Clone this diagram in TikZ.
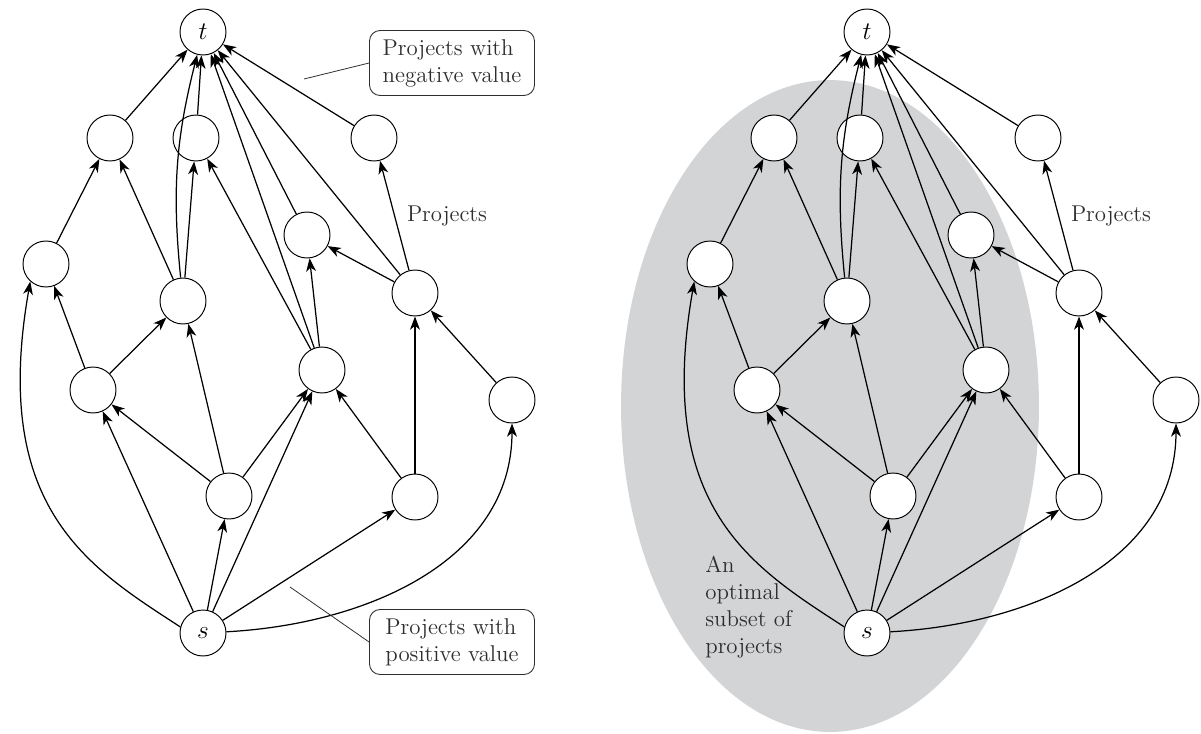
\documentclass[tikz,border=0pt]{standalone}
\usepackage{xcolor}
\usepackage{tikz}
\usetikzlibrary{arrows.meta}
\definecolor{ink}{HTML}{2E2E2E}
\definecolor{setgray}{HTML}{D3D4D6}

\begin{document}
\begin{tikzpicture}[x=0.02cm,y=-0.02cm,
  proj/.style={circle,draw=black,line width=0.55pt,fill=white,minimum size=0.92cm,inner sep=0pt,font=\fontsize{14}{16}\selectfont},
  dep/.style={-{Stealth[length=7.5pt,width=5.6pt,inset=2.2pt]},line width=0.7pt},
  note/.style={rectangle,rounded corners=6pt,draw=ink,line width=0.5pt,align=left,text=ink,font=\fontsize{13}{15.4}\selectfont,minimum width=3.3cm,minimum height=1.3cm,inner xsep=0.2cm},
  lead/.style={draw=ink,line width=0.45pt},
  lbl/.style={text=ink,font=\fontsize{13}{15.4}\selectfont,inner sep=0pt}]
\useasboundingbox (0,0) rectangle (1201,734);

% the optimal set, right copy only
\fill[setgray] (830,406) ellipse [x radius=4.18cm,y radius=6.52cm];

\foreach \p/\dx in {l/0,r/664} {
  \node[proj] (\p-t) at (203+\dx,32) {$t$};
  \node[proj] (\p-a) at (110+\dx,138) {};
  \node[proj] (\p-b) at (196+\dx,138) {};
  \node[proj] (\p-c) at (374+\dx,138) {};
  \node[proj] (\p-d) at (46+\dx,264) {};
  \node[proj] (\p-e) at (183+\dx,301) {};
  \node[proj] (\p-f) at (307+\dx,235) {};
  \node[proj] (\p-g) at (415+\dx,293) {};
  \node[proj] (\p-h) at (322+\dx,370) {};
  \node[proj] (\p-i) at (93+\dx,390) {};
  \node[proj] (\p-j) at (512+\dx,400) {};
  \node[proj] (\p-k) at (229+\dx,496) {};
  \node[proj] (\p-m) at (415+\dx,497) {};
  \node[proj] (\p-s) at (203+\dx,633) {$s$};
  \node[lbl] (\p-lbl) at (447+\dx,216) {Projects};
  % into t
  \foreach \u in {a,b,c,f,g,h}
    \draw[dep] (\p-\u) -- (\p-t);
  \draw[dep] (\p-e) to[bend left=10] (\p-t);
  % between projects
  \draw[dep] (\p-d) -- (\p-a);
  \draw[dep] (\p-e) -- (\p-a);
  \draw[dep] (\p-e) -- (\p-b);
  \draw[dep] (\p-h) -- (\p-b);
  \draw[dep] (\p-g) -- (\p-c);
  \draw[dep] (\p-i) -- (\p-d);
  \draw[dep] (\p-i) -- (\p-e);
  \draw[dep] (\p-k) -- (\p-e);
  \draw[dep] (\p-h) -- (\p-f);
  \draw[dep] (\p-g) -- (\p-f);
  \draw[dep] (\p-m) -- (\p-g);
  \draw[dep] (\p-j) -- (\p-g);
  \draw[dep] (\p-k) -- (\p-h);
  \draw[dep] (\p-m) -- (\p-h);
  \draw[dep] (\p-k) -- (\p-i);
  % out of s
  \foreach \v in {i,k,h,m}
    \draw[dep] (\p-s) -- (\p-\v);
  \draw[dep] (\p-s.165) to[out=147,in=-100,out distance=2.2cm,in distance=4.6cm] (\p-d.228);
  \draw[dep] (\p-s) to[out=3,in=-90] (\p-j);
}

% callouts
\node[note] (neg) at (452,63) {Projects with\\negative value};
\coordinate (negtip) at (304,79);
\draw[lead] (negtip) -- (neg.west);
\node[note] (pos) at (452,642) {Projects with\\positive value};
\coordinate (postip) at (290,587);
\draw[lead] (postip) -- (pos.west);
\node[lbl,align=left,anchor=north west] (optset) at (705,556) {An\\optimal\\subset of\\projects};
\end{tikzpicture}
\end{document}
